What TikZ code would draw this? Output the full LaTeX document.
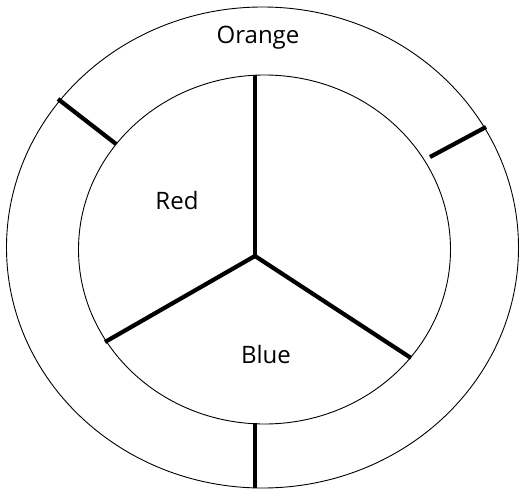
\documentclass[tikz,border=0pt]{standalone}
\usepackage{fontspec}
\setmainfont{Open Sans}
\usepackage{tikz}
\usetikzlibrary{positioning}
\tikzset{
  ring/.style  = {draw=black, line width=0.9pt},
  spoke/.style = {draw=black, line width=4.2pt},
  lbl/.style   = {font=\fontsize{24}{28}\selectfont, text=black, inner sep=0pt},
}
\begin{document}
\begin{tikzpicture}[x=1pt, y=-1pt]
\useasboundingbox (0,0) rectangle (519,492);
% rings
\draw[ring] (262.5,247.5) ellipse [x radius=256, y radius=240.5];
\draw[ring] (264.5,249.5) ellipse [x radius=186, y radius=174.5];
% hub and spoke ends
\coordinate (hub) at (255,256);
\coordinate (top) at (255,75);
\coordinate (lft) at (105,342);
\coordinate (rgt) at (411,358);
\draw[spoke] (hub) -- (top);
\draw[spoke] (hub) -- (lft);
\draw[spoke] (hub) -- (rgt);
% ticks across the outer band
\coordinate (ul1) at (58,99);
\coordinate (ul2) at (116,144);
\coordinate (ur1) at (486,127);
\coordinate (ur2) at (430,157);
\coordinate (bt1) at (255,423);
\coordinate (bt2) at (255,488);
\draw[spoke] (ul1) -- (ul2);
\draw[spoke] (ur1) -- (ur2);
\draw[spoke] (bt1) -- (bt2);
% labels
\node[lbl] (orange) at (258,38) {Orange};
\node[lbl] (red) at (177,200) {Red};
\node[lbl] (blue) at (266,354) {Blue};
\end{tikzpicture}
\end{document}
